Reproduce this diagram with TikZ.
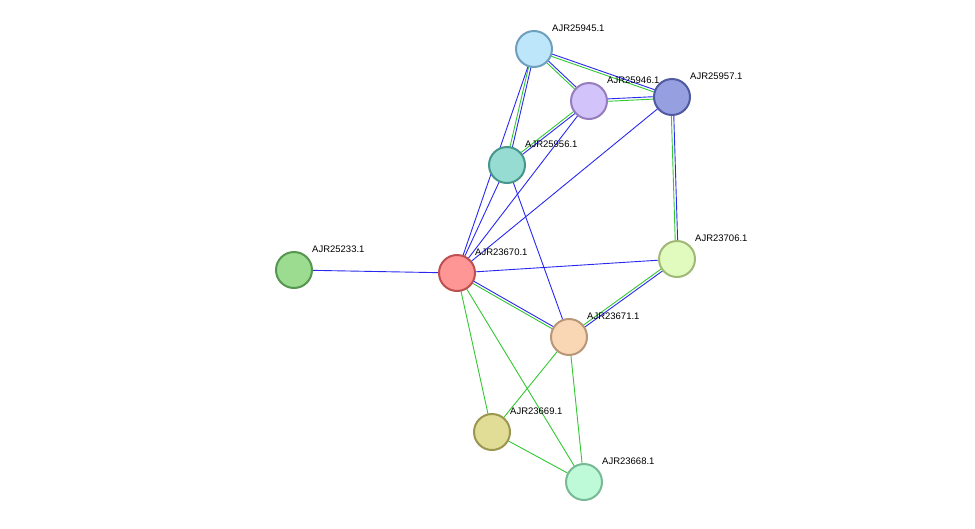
\documentclass[tikz,border=0pt]{standalone}
\usepackage{fontspec}
\setmainfont{Liberation Sans}
\usetikzlibrary{calc,backgrounds}
\definecolor{eblue}{RGB}{40,40,240}
\definecolor{egreen}{RGB}{50,200,50}
\tikzset{
  prot/.style={circle,draw,line width=2pt,minimum size=36pt,inner sep=0pt},
  lab/.style={font=\fontsize{9.5}{11}\selectfont,inner sep=0pt,anchor=south west},
  ln/.style={line width=0.9pt}
}
% two parallel lines, blue and green
\newcommand{\twin}[2]{%
  \draw[ln,eblue] ($(#1)!1.2pt!90:(#2)$) -- ($(#2)!1.2pt!-90:(#1)$);
  \draw[ln,egreen] ($(#1)!1.2pt!-90:(#2)$) -- ($(#2)!1.2pt!90:(#1)$);}
\begin{document}
\begin{tikzpicture}[x=1pt,y=-1pt]
\useasboundingbox (0,0) rectangle (975,528);

\node[prot,fill={rgb,255:red,190;green,230;blue,250},draw={rgb,255:red,110;green,160;blue,190}] (g45) at (534,49) {};
\node[prot,fill={rgb,255:red,210;green,195;blue,250},draw={rgb,255:red,150;green,125;blue,190}] (g46) at (589,101) {};
\node[prot,fill={rgb,255:red,150;green,160;blue,225},draw={rgb,255:red,80;green,90;blue,160}] (g57) at (672,97) {};
\node[prot,fill={rgb,255:red,150;green,220;blue,210},draw={rgb,255:red,70;green,150;blue,140}] (g56) at (507,165) {};
\node[prot,fill={rgb,255:red,155;green,220;blue,145},draw={rgb,255:red,85;green,150;blue,80}] (g33) at (294,270) {};
\node[prot,fill={rgb,255:red,255;green,150;blue,150},draw={rgb,255:red,190;green,80;blue,80}] (g70) at (457,273) {};
\node[prot,fill={rgb,255:red,225;green,250;blue,190},draw={rgb,255:red,160;green,185;blue,120}] (g06) at (677,259) {};
\node[prot,fill={rgb,255:red,250;green,215;blue,180},draw={rgb,255:red,185;green,150;blue,120}] (g71) at (569,337) {};
\node[prot,fill={rgb,255:red,225;green,220;blue,150},draw={rgb,255:red,155;green,150;blue,80}] (g69) at (492,432) {};
\node[prot,fill={rgb,255:red,190;green,250;blue,215},draw={rgb,255:red,120;green,185;blue,150}] (g68) at (584,482) {};

\node[lab] at ([shift={(18,-17)}]g45.center) {AJR25945.1};
\node[lab] at ([shift={(18,-17)}]g46.center) {AJR25946.1};
\node[lab] at ([shift={(18,-17)}]g57.center) {AJR25957.1};
\node[lab] at ([shift={(18,-17)}]g56.center) {AJR25956.1};
\node[lab] at ([shift={(18,-17)}]g33.center) {AJR25233.1};
\node[lab] at ([shift={(18,-17)}]g70.center) {AJR23670.1};
\node[lab] at ([shift={(18,-17)}]g06.center) {AJR23706.1};
\node[lab] at ([shift={(18,-17)}]g71.center) {AJR23671.1};
\node[lab] at ([shift={(18,-17)}]g69.center) {AJR23669.1};
\node[lab] at ([shift={(18,-17)}]g68.center) {AJR23668.1};

\begin{pgfonlayer}{background}
\twin{g45}{g46} \twin{g45}{g57} \twin{g45}{g56}
\twin{g46}{g57} \twin{g46}{g56} \twin{g57}{g06}
\twin{g70}{g71} \twin{g06}{g71}
\draw[ln,eblue] (g45.center) -- (g70.center);
\draw[ln,eblue] (g46.center) -- (g70.center);
\draw[ln,eblue] (g57.center) -- (g70.center);
\draw[ln,eblue] (g56.center) -- (g70.center);
\draw[ln,eblue] (g56.center) -- (g71.center);
\draw[ln,eblue] (g33.center) -- (g70.center);
\draw[ln,eblue] (g70.center) -- (g06.center);
\draw[ln,egreen] (g70.center) -- (g69.center);
\draw[ln,egreen] (g70.center) -- (g68.center);
\draw[ln,egreen] (g71.center) -- (g69.center);
\draw[ln,egreen] (g71.center) -- (g68.center);
\draw[ln,egreen] (g69.center) -- (g68.center);
\end{pgfonlayer}
\end{tikzpicture}
\end{document}
